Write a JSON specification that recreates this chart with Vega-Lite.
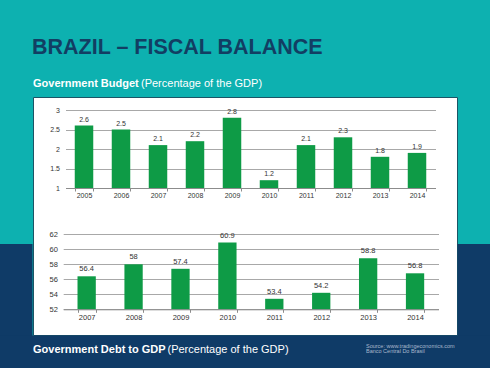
{
  "$schema": "https://vega.github.io/schema/vega-lite/v6.json",
  "width": 424,
  "height": 238,
  "autosize": {"type": "none"},
  "padding": {"left": 33, "top": 97, "right": 33, "bottom": 33},
  "background": "#0db1b0",
  "view": {"fill": "#ffffff", "stroke": "#1b5566", "strokeWidth": 1},
  "config": {"font": "Liberation Sans"},
  "layer": [
    {
      "data": {"values": [{}]},
      "mark": {"type": "rect", "fill": "#0f3b67"},
      "encoding": {"x": {"value": -40}, "x2": {"value": -0.5}, "y": {"value": 147}, "y2": {"value": 280}}
    },
    {
      "data": {"values": [{}]},
      "mark": {"type": "rect", "fill": "#0f3b67"},
      "encoding": {"x": {"value": 424.5}, "x2": {"value": 470}, "y": {"value": 147}, "y2": {"value": 280}}
    },
    {
      "data": {"values": [{}]},
      "mark": {"type": "rect", "fill": "#0f3b67"},
      "encoding": {"x": {"value": -40}, "x2": {"value": 470}, "y": {"value": 238.5}, "y2": {"value": 280}}
    },
    {
      "data": {"values": [
        {"year": "2005", "value": 2.6},
        {"year": "2006", "value": 2.5},
        {"year": "2007", "value": 2.1},
        {"year": "2008", "value": 2.2},
        {"year": "2009", "value": 2.8},
        {"year": "2010", "value": 1.2},
        {"year": "2011", "value": 2.1},
        {"year": "2012", "value": 2.3},
        {"year": "2013", "value": 1.8},
        {"year": "2014", "value": 1.9}
      ]},
      "encoding": {
        "x": {"field": "year", "type": "ordinal",
          "scale": {"range": [32.5, 402.5], "paddingInner": 0.5, "paddingOuter": 0.25},
          "axis": {"orient": "bottom", "offset": -147, "title": null, "labelAngle": 0, "labelFontSize": 7, "labelColor": "#333333", "domainColor": "#8c8c8c", "tickColor": "#8c8c8c", "tickSize": 3, "tickBand": "extent", "labelPadding": 0.5, "grid": false, "zindex": 1}},
        "y": {"field": "value", "type": "quantitative",
          "scale": {"domain": [1, 3], "range": [91, 13], "zero": false, "nice": false},
          "axis": {"orient": "left", "offset": -32, "title": null, "values": [1, 1.5, 2, 2.5, 3], "format": "~g", "domain": false, "ticks": false, "labelPadding": 5.5, "grid": true, "gridColor": "#a8a8a8", "labelFontSize": 7, "labelColor": "#333333", "zindex": 0}}
      },
      "layer": [
        {"mark": {"type": "bar", "color": "#0e9b46"}, "encoding": {"y2": {"datum": 1}}},
        {"mark": {"type": "text", "baseline": "bottom", "dy": -3, "fontSize": 7, "color": "#333333"},
         "encoding": {"text": {"field": "value", "type": "quantitative", "format": "~g"}}}
      ]
    },
    {
      "data": {"values": [
        {"year": "2007", "value": 56.4},
        {"year": "2008", "value": 58},
        {"year": "2009", "value": 57.4},
        {"year": "2010", "value": 60.9},
        {"year": "2011", "value": 53.4},
        {"year": "2012", "value": 54.2},
        {"year": "2013", "value": 58.8},
        {"year": "2014", "value": 56.8}
      ]},
      "encoding": {
        "x": {"field": "year", "type": "ordinal",
          "scale": {"range": [30.2, 405.5], "paddingInner": 0.61, "paddingOuter": 0.305},
          "axis": {"orient": "bottom", "offset": -25.7, "title": null, "labelAngle": 0, "labelFontSize": 7.5, "labelColor": "#333333", "domainColor": "#8c8c8c", "tickColor": "#8c8c8c", "tickSize": 3, "tickBand": "extent", "labelPadding": 1.5, "grid": false, "zindex": 1}},
        "y": {"field": "value", "type": "quantitative",
          "scale": {"domain": [52, 62], "range": [212.3, 137.3], "zero": false, "nice": false},
          "axis": {"orient": "left", "offset": -30, "title": null, "values": [52, 54, 56, 58, 60, 62], "domain": false, "ticks": false, "labelPadding": 5.7, "grid": true, "gridColor": "#a8a8a8", "labelFontSize": 7.5, "labelColor": "#333333", "zindex": 0}}
      },
      "layer": [
        {"mark": {"type": "bar", "color": "#0e9b46"}, "encoding": {"y2": {"datum": 52}}},
        {"mark": {"type": "text", "baseline": "bottom", "dy": -3, "fontSize": 7.5, "color": "#333333"},
         "encoding": {"text": {"field": "value", "type": "quantitative", "format": "~g"}}}
      ]
    },
    {
      "data": {"values": [{}]},
      "mark": {"type": "text", "text": "BRAZIL – FISCAL BALANCE", "align": "left", "baseline": "alphabetic", "fontSize": 21.5, "fontWeight": "bold", "color": "#123e63"},
      "encoding": {"x": {"value": -1}, "y": {"value": -43.5}}
    },
    {
      "data": {"values": [{}]},
      "mark": {"type": "text", "text": "Government Budget", "align": "left", "baseline": "alphabetic", "fontSize": 11, "fontWeight": "bold", "color": "#ffffff"},
      "encoding": {"x": {"value": 0}, "y": {"value": -10.5}}
    },
    {
      "data": {"values": [{}]},
      "mark": {"type": "text", "text": "(Percentage of the GDP)", "align": "left", "baseline": "alphabetic", "fontSize": 11, "color": "#ffffff"},
      "encoding": {"x": {"value": 108}, "y": {"value": -10.5}}
    },
    {
      "data": {"values": [{}]},
      "mark": {"type": "text", "text": "Government Debt to GDP", "align": "left", "baseline": "alphabetic", "fontSize": 11, "fontWeight": "bold", "color": "#ffffff"},
      "encoding": {"x": {"value": 0}, "y": {"value": 256}}
    },
    {
      "data": {"values": [{}]},
      "mark": {"type": "text", "text": "(Percentage of the GDP)", "align": "left", "baseline": "alphabetic", "fontSize": 11, "color": "#ffffff"},
      "encoding": {"x": {"value": 134.5}, "y": {"value": 256}}
    },
    {
      "data": {"values": [{}]},
      "mark": {"type": "text", "text": "Source: www.tradingeconomics.com", "align": "left", "baseline": "alphabetic", "fontSize": 5.5, "color": "#a9b9cc"},
      "encoding": {"x": {"value": 333}, "y": {"value": 251}}
    },
    {
      "data": {"values": [{}]},
      "mark": {"type": "text", "text": "Banco Central Do Brasil", "align": "left", "baseline": "alphabetic", "fontSize": 5.5, "color": "#a9b9cc"},
      "encoding": {"x": {"value": 333}, "y": {"value": 256}}
    }
  ],
  "resolve": {"scale": {"x": "independent", "y": "independent"}, "axis": {"x": "independent", "y": "independent"}}
}
